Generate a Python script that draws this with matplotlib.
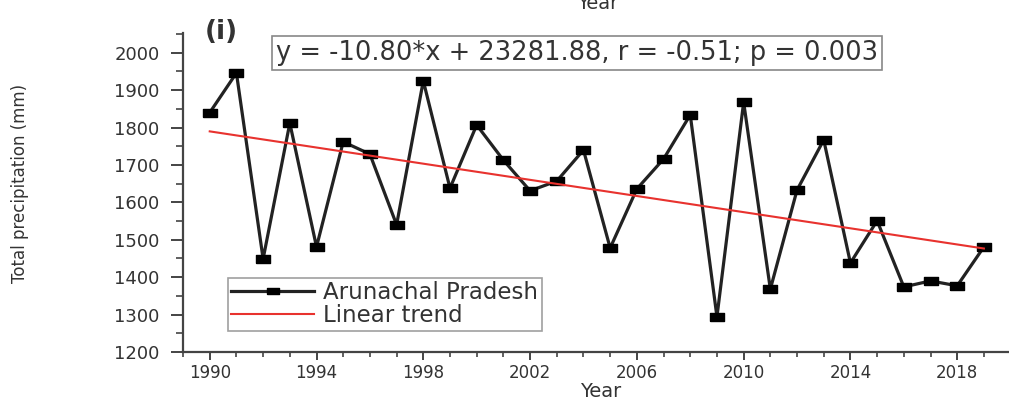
import numpy as np
import matplotlib
matplotlib.use("Agg")
import matplotlib.pyplot as plt
from matplotlib.ticker import MultipleLocator


# ============================================================
# DATA
# ============================================================

YEARS = list(range(1990, 2020))

PRECIP = [1840, 1946, 1449, 1812, 1481, 1762, 1729, 1540, 1925, 1638,
          1807, 1713, 1631, 1657, 1740, 1478, 1636, 1716, 1834, 1294,
          1868, 1368, 1633, 1767, 1438, 1551, 1374, 1390, 1377, 1481]

X_TICKS = list(range(1990, 2020, 4))

# trend as printed in the figure
SLOPE = -10.80
INTERCEPT = 23281.88
EQ_TEXT = "y = -10.80*x + 23281.88, r = -0.51; p = 0.003"

SERIES_LABEL = "Arunachal Pradesh"
TREND_LABEL = "Linear trend"


# ============================================================
# PLOT
# ============================================================

plt.rcParams["font.family"] = ["DejaVu Sans"]
TXT = "#333333"

fig = plt.figure(figsize=(10.09, 4.03), dpi=100)
ax = fig.add_axes([0.1814, 0.1266, 0.8186, 0.7916])

years = np.array(YEARS)
trend = SLOPE * years + INTERCEPT

# wide flat square marker like the original
box = [(-1, -0.55), (1, -0.55), (1, 0.55), (-1, 0.55), (-1, -0.55)]

ax.plot(years, PRECIP, color="#222222", linewidth=2.3, marker=box,
        markersize=10, markerfacecolor="black", markeredgecolor="black",
        label=SERIES_LABEL, zorder=3)
ax.plot(years, trend, color="#e8322e", linewidth=1.5, label=TREND_LABEL,
        zorder=4)

ax.set_xlim(1989, 2019.94)
ax.set_ylim(1200, 2053)

ax.set_xticks(X_TICKS)
ax.xaxis.set_minor_locator(MultipleLocator(1))
ax.yaxis.set_major_locator(MultipleLocator(100))
ax.yaxis.set_minor_locator(MultipleLocator(50))

for side in ["top", "right"]:
    ax.spines[side].set_visible(False)
for side in ["left", "bottom"]:
    ax.spines[side].set_color("#444444")
    ax.spines[side].set_linewidth(1.6)

ax.tick_params(axis="y", which="major", length=9, width=1.4, pad=8,
               labelsize=13, colors="#444444", labelcolor=TXT)
ax.tick_params(axis="y", which="minor", length=5, width=1.2, colors="#444444")
ax.tick_params(axis="x", which="major", length=6, width=1.4, pad=3,
               labelsize=12, colors="#444444", labelcolor=TXT)
ax.tick_params(axis="x", which="minor", length=3.5, width=1.2,
               colors="#444444")

ax.text(0.112, 0.937, EQ_TEXT, transform=ax.transAxes, va="center",
        ha="left", fontsize=18.5, color=TXT,
        bbox=dict(boxstyle="square,pad=0.15", facecolor="white",
                  edgecolor="#888888", linewidth=1.2))

leg = ax.legend(loc="lower left", bbox_to_anchor=(0.0545, 0.066),
                borderaxespad=0, fontsize=16.5, handlelength=3.6,
                handletextpad=0.4, borderpad=0.15, labelspacing=0.0,
                fancybox=False, frameon=True, markerscale=0.8)
leg.get_frame().set_edgecolor("#888888")
leg.get_frame().set_linewidth(1.2)
for t in leg.get_texts():
    t.set_color(TXT)

fig.text(0.203, 0.921, "(i)", fontsize=19, fontweight="bold", color=TXT,
         va="center", ha="left")
fig.text(0.02, 0.546, "Total precipitation (mm)", rotation=90, fontsize=12,
         color=TXT, va="center", ha="center")
fig.text(0.595, 0.028, "Year", fontsize=14, color=TXT, va="center",
         ha="center")
# label of the panel above, cut by the top edge
fig.text(0.592, 0.992, "Year", fontsize=14, color=TXT, va="center",
         ha="center")

fig.savefig("out.png", dpi=100)
